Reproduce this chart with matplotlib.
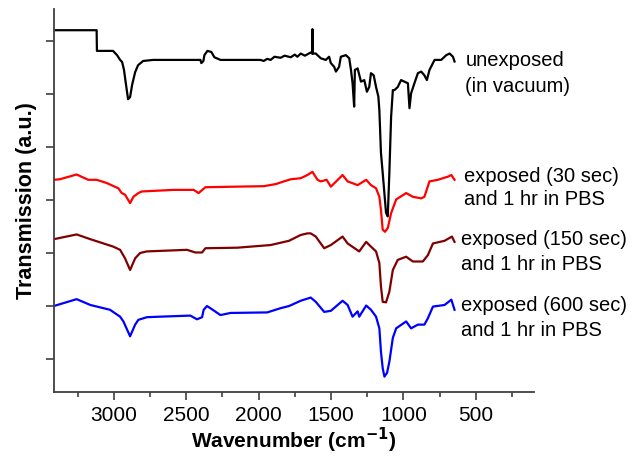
import numpy as np
import matplotlib.pyplot as plt

plt.rcParams['font.family'] = ['Liberation Sans', 'DejaVu Sans']

# unexposed (in vacuum)
wn_black = [3414, 3118, 3116, 3005, 2977, 2956, 2942, 2929, 2915, 2901, 2887, 2873, 2852, 2832, 2797,
            2728, 2402, 2395, 2381, 2374, 2353, 2326, 2305, 2263, 1986, 1965, 1940, 1917, 1890, 1848,
            1820, 1778, 1750, 1732, 1709, 1680, 1640, 1629, 1628, 1627, 1605, 1570, 1536, 1513, 1501,
            1478, 1466, 1444, 1432, 1397, 1374, 1362, 1351, 1340, 1335, 1316, 1293, 1270, 1252, 1236,
            1224, 1205, 1189, 1173, 1166, 1155, 1143, 1120, 1108, 1097, 1085, 1073, 1062, 1039, 1016,
            993, 969, 958, 947, 924, 900, 877, 855, 838, 820, 785, 739, 704, 681, 658, 647]
t_black = [7.20, 7.20, 6.81, 6.81, 6.73, 6.64, 6.60, 6.45, 6.17, 5.90, 5.94, 6.17, 6.41, 6.54, 6.62,
           6.64, 6.64, 6.58, 6.62, 6.73, 6.81, 6.79, 6.69, 6.64, 6.64, 6.62, 6.66, 6.64, 6.70, 6.68,
           6.72, 6.69, 6.74, 6.70, 6.76, 6.72, 6.78, 6.76, 7.22, 6.76, 6.76, 6.67, 6.64, 6.70, 6.58,
           6.51, 6.42, 6.51, 6.70, 6.73, 6.67, 6.45, 6.20, 5.76, 6.45, 6.48, 6.23, 6.26, 6.04, 6.13,
           6.39, 6.35, 6.13, 5.95, 5.69, 4.89, 4.51, 3.76, 3.69, 4.51, 5.56, 6.07, 6.07, 6.13, 6.26,
           6.23, 6.20, 5.73, 6.01, 6.20, 6.39, 6.42, 6.35, 6.26, 6.45, 6.64, 6.64, 6.73, 6.76, 6.70, 6.61]

# exposed (30 sec) and 1 hr in PBS
wn_red = [3414, 3372, 3256, 3176, 3118, 3049, 2968, 2945, 2922, 2887, 2864, 2830, 2806, 2587, 2448,
          2414, 2367, 2171, 1963, 1880, 1825, 1778, 1709, 1663, 1628, 1593, 1570, 1530, 1501, 1420,
          1385, 1316, 1257, 1224, 1189, 1166, 1155, 1143, 1127, 1108, 1085, 1050, 981, 935, 877,
          855, 820, 762, 692, 669, 647]
t_red = [4.38, 4.39, 4.48, 4.38, 4.38, 4.32, 4.22, 4.13, 4.10, 3.94, 4.06, 4.13, 4.16, 4.19, 4.19,
         4.13, 4.24, 4.25, 4.26, 4.30, 4.35, 4.39, 4.41, 4.47, 4.53, 4.38, 4.35, 4.38, 4.25, 4.47,
         4.35, 4.28, 4.38, 4.28, 4.22, 4.06, 3.81, 3.44, 3.40, 3.47, 3.75, 4.01, 4.13, 4.06, 4.03,
         4.06, 4.35, 4.38, 4.44, 4.47, 4.38]

# exposed (150 sec) and 1 hr in PBS
wn_dred = [3414, 3256, 3161, 3003, 2956, 2922, 2887, 2852, 2818, 2771, 2494, 2437, 2390, 2367, 2148,
           1917, 1790, 1709, 1663, 1640, 1605, 1547, 1501, 1420, 1385, 1305, 1257, 1224, 1189, 1166,
           1155, 1143, 1120, 1097, 1073, 1039, 981, 935, 866, 831, 796, 716, 665, 647]
t_dred = [3.26, 3.35, 3.26, 3.12, 3.06, 2.90, 2.68, 2.90, 3.00, 3.03, 3.06, 3.01, 3.01, 3.09, 3.10,
          3.15, 3.23, 3.34, 3.37, 3.37, 3.31, 3.09, 3.15, 3.31, 3.18, 3.03, 3.21, 3.12, 3.03, 2.81,
          2.37, 2.08, 2.07, 2.27, 2.68, 2.87, 2.93, 2.84, 2.84, 2.96, 3.18, 3.23, 3.31, 3.21]

# exposed (600 sec) and 1 hr in PBS
wn_blue = [3414, 3256, 3161, 3026, 2956, 2933, 2887, 2852, 2830, 2771, 2679, 2471, 2425, 2390, 2379,
           2356, 2333, 2263, 2194, 1940, 1848, 1790, 1709, 1640, 1605, 1547, 1501, 1420, 1385, 1351,
           1316, 1305, 1257, 1224, 1189, 1166, 1155, 1143, 1131, 1113, 1097, 1073, 1050, 981, 947,
           900, 855, 831, 796, 716, 669, 647]
t_blue = [2.00, 2.13, 2.02, 1.93, 1.80, 1.71, 1.43, 1.65, 1.74, 1.79, 1.80, 1.82, 1.75, 1.79, 1.93,
          2.00, 1.96, 1.83, 1.87, 1.88, 1.96, 2.00, 2.10, 2.16, 2.08, 1.89, 1.91, 2.10, 2.02, 1.80,
          1.90, 1.80, 2.01, 1.93, 1.80, 1.58, 1.14, 0.83, 0.67, 0.74, 0.95, 1.40, 1.58, 1.71, 1.58,
          1.65, 1.65, 1.77, 1.99, 2.02, 2.12, 1.93]

labels = [["unexposed", "(in vacuum)"],
          ["exposed (30 sec)", "and 1 hr in PBS"],
          ["exposed (150 sec)", "and 1 hr in PBS"],
          ["exposed (600 sec)", "and 1 hr in PBS"]]
label_x = [572, 581, 605, 605]
label_y = [[6.52, 6.04], [4.34, 3.91], [3.15, 2.68], [1.90, 1.43]]

fig = plt.figure(figsize=(6.4, 4.61), dpi=100)
ax = fig.add_axes([0.084, 0.1497, 0.75, 0.8308])

ax.plot(wn_black, t_black, color='black', lw=1.6)
ax.plot(wn_red, t_red, color='#ff0000', lw=1.6)
ax.plot(wn_dred, t_dred, color='#800000', lw=1.6)
ax.plot(wn_blue, t_blue, color='#0000ff', lw=1.6)

for lab, lx, ly in zip(labels, label_x, label_y):
    for s, y in zip(lab, ly):
        ax.text(lx, y, s, fontsize=14.5, ha='left', va='baseline', clip_on=False)

ax.set_xlim(3414, 100)
ax.set_ylim(0.38, 7.6)
ax.set_xticks([3000, 2500, 2000, 1500, 1000, 500])
ax.set_xticks([3250, 2750, 2250, 1750, 1250, 750, 250], minor=True)
ax.set_yticks([1, 2, 3, 4, 5, 6, 7])
ax.set_yticklabels([])

for side in ['top', 'right']:
    ax.spines[side].set_visible(False)
for side in ['left', 'bottom']:
    ax.spines[side].set_linewidth(1.3)
    ax.spines[side].set_color('#404040')
ax.tick_params(axis='both', which='major', length=6, width=1.2, color='#404040', labelsize=15, pad=4)
ax.tick_params(axis='both', which='minor', length=3.5, width=1.2, color='#404040')

ax.set_xlabel('Wavenumber (cm$^{\\mathbf{-1}}$)', fontsize=15, fontweight='bold', labelpad=1)
ax.set_ylabel('Transmission (a.u.)', fontsize=15.5, fontweight='bold', labelpad=2)

fig.savefig('out.png', dpi=100)
